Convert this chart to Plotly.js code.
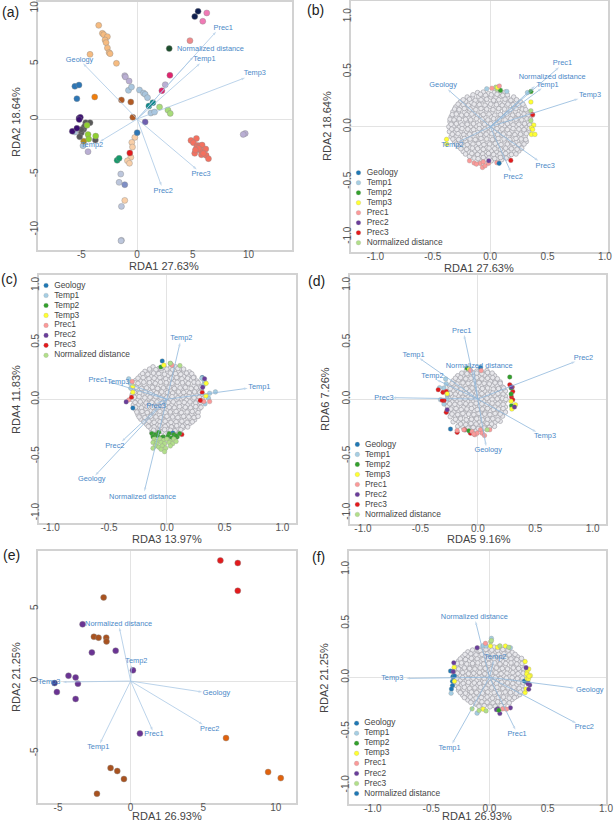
<!DOCTYPE html>
<html><head><meta charset="utf-8">
<script src="https://cdn.plot.ly/plotly-3.0.1.min.js"></script>
<style>html,body{margin:0;padding:0;background:#fff}#c{width:614px;height:822px}</style></head>
<body><div id="c"></div>
<script>
// ---------- shared names ----------
const classNames = ['Geology','Temp1','Temp2','Temp3','Prec1','Prec2','Prec3','Normalized distance'];
const classNamesF = ['Geology','Temp1','Temp2','Temp3','Prec1','Prec2','Prec3','Normalized distance'];

// ---------- panel (a): site scores, cluster id per site ----------
const aX = [-3.45,-3.12,-3.0,-2.67,-2.88,-2.79,-2.67,-2.52,-2.43,-1.86,-4.23,
 -0.21,-0.48,-0.42,-0.57,-0.87,-0.69,-1.11,
 -1.47,-1.62,-1.41,-1.41,-1.45,-1.11,
 -1.11,-1.05,-0.72,2.52,9.7,9.52,-4.41,
 -0.78,-0.51,0.21,0.57,0.72,0.93,1.23,1.56,-5.59,-4.86,
 1.05,1.41,
 -5.59,-5.22,-5.41,0,
 -3.81,
 -1.41,-0.57,-0.39,
 2.01,2.76,2.97,
 -4.8,
 -4.62,-4.23,-4.8,-5.01,-5.16,-3.75,-4.74,-5.0,
 -5.22,-5.1,-5.82,-5.41,-5.2,
 -4.5,-4.41,-3.72,-4.35,
 5.47,5.17, 6.25,5.89, 4.74, 2.88, 2.94,2.22,
 4.83,5.32,5.05,5.41,5.65,5.83,5.35,5.65,6.16,5.17,5.77,6.19,6.4,5.95,5.5,5.23,
 -0.66, -1.8,-1.62, 0.72];
const aY = [8.46,7.74,7.62,7.44,7.14,6.9,6.42,6.0,5.9,5.03,5.84,
 -1.66,-2.11,-2.53,-3.46,-3.77,-4.0,-7.35,
 -4.97,-5.72,-7.89,-10.96,-11.0,-5.93,
 3.92,3.8,3.43,3.1,-1.3,-1.39,-2.95,
 2.59,2.89,2.62,2.35,2.23,1.93,0.54,0.63,-1.17,-2.41,
 1.17,1.48,
 2.95,3.07,1.84,-1.23,
 1.99,
 1.72,1.54,0.15,
 1.08,0.81,0.51,
 -2.0,
 -0.33,-0.33,-0.93,-1.23,-1.6,-1.9,-0.7,-0.95,
 0.06,0.15,-1.11,-0.84,-0.05,
 -0.57,-1.39,-1.54,-1.81,
 9.73,9.25, 9.58,8.83, 7.08, 6.36, 3.95,2.56,
 -1.93,-1.75,-2.14,-2.38,-2.41,-2.35,-2.56,-2.8,-2.71,-3.1,-3.22,-3.28,-3.58,-3.1,-2.65,-2.8,
 -3.07, -3.73,-3.55, -0.27];
const aCluster = [0,0,0,0,0,0,0,0,0,0,0,
 1,1,1,1,1,1,1,
 2,2,2,2,2,3,
 4,4,4,4,4,4,4,
 5,5,5,5,5,5,5,5,5,5,
 6,6,
 7,7,7,7,
 8,
 9,9,9,
 10,10,10,
 11,
 12,12,12,12,12,12,12,12,
 13,13,13,13,13,
 14,14,14,14,
 15,15, 16,16, 17, 18, 19,19,
 20,20,20,20,20,20,20,20,20,20,20,20,20,20,20,20,
 21, 22,22, 23];
const aClusterColors = ['#f6bb80','#f9cfa8','#bcc6dc','#7f8fc5','#b9aed3','#a9c6de','#0e8a8a','#2d76b5','#f07d0a','#b25a23','#a8dc7a','#b08a20','#595959','#3b0f70','#90d030','#0f1f4f','#f07ab5','#f0898a','#1b4d2b','#e0246e','#f4705f','#e31a1c','#159a6a','#6f60b0'];

// ---------- panel (e): site scores ----------
const eX = [6.18,7.38,7.38, -1.86,-2.53,-2.21,-1.68,-1.66,-1.38,-0.92,-0.46,-2.32,
 -3.31,-1.03,-2.67,0.16,-4.28,-3.79,-3.63,-5.24,-5.08,-3.79,0.64, 6.57,9.47,10.34];
const eY = [8.34,8.16,6.24, 5.78,3.06,3.0,3.0,2.74,-6.01,-6.22,-6.77,-7.79,
 3.92,2.1,1.98,0.74,0.37,0.25,-0.18,-0.14,-0.76,-1.24,-3.62, -3.94,-6.29,-6.71];
const eCluster = [0,0,0, 1,1,1,1,1,1,1,1,1, 2,2,2,2,2,2,2,3,2,2,2, 4,4,4];
const eClusterColors = ['#e31a1c','#a8521f','#6a3393','#3d3d8e','#e0620d'];

// ---------- arrow names, tips, label positions ----------
const arrowNames = ['Geology','Temp1','Temp2','Temp3','Prec1','Prec2','Prec3','Normalized distance'];
const aTipX = [-4.86,5.65,-3.36,9.7,7.09,2.19,5.35,5.05];
const aTipY = [5.03,5.03,-2.05,3.73,7.89,-6.05,-4.55,5.63];
const aLabX = [-5.17,6.04,-4.05,10.57,7.72,2.34,5.74,6.58];
const aLabY = [5.33,5.45,-2.32,4.1,8.22,-6.48,-5.0,6.27];

const bTipX = [-.37,.45,-.28,.77,.60,.18,.42,.39];
const bTipY = [.34,.35,-.14,.255,.54,-.41,-.31,.37];
const bLabX = [-.41,.50,-.33,.87,.63,.20,.48,.54];
const bLabY = [.38,.378,-.165,.29,.58,-.46,-.355,.447];

const cTipX = [-.62,.70,.115,-.33,-.505,-.39,-.09,-.195];
const cTipY = [-.67,.097,.5,.14,.155,-.37,-.035,-.81];
const cLabX = [-.65,.80,.125,-.42,-.595,-.45,-.095,-.21];
const cLabY = [-.70,.108,.535,.15,.167,-.41,-.058,-.856];

const dTipX = [.072,-.51,-.36,.51,-.12,.85,-.745,-.035];
const dTipY = [-.416,.36,.17,-.29,.566,.33,.012,.26];
const dLabX = [.09,-.56,-.395,.585,-.14,.92,-.817,.012];
const dLabY = [-.45,.385,.2,-.323,.6,.36,.009,.285];

const eArrowNames = ['Geology','Temp1','Temp2','Temp3','Prec1','Prec2','Normalized distance'];
const eTipX = [4.94,-2.11,.07,-4.69,1.52,4.97,-.78];
const eTipY = [-.76,-4.31,1.1,-.07,-3.43,-3.0,3.71];
const eLabX = [5.91,-2.23,.39,-5.61,1.61,5.45,-.83];
const eLabY = [-.83,-4.59,1.36,-.07,-3.69,-3.3,3.96];

const fArrowNames = ['Geology','Temp1','Temp2','Temp3','Prec1','Prec2','Normalized distance'];
const fTipX = [.73,-.32,.037,-.714,.223,.745,-.12];
const fTipY = [-.1,-.615,.16,-.01,-.486,-.425,.52];
const fLabX = [.86,-.343,.05,-.834,.237,.814,-.13];
const fLabY = [-.117,-.652,.19,-.012,-.523,-.465,.56];

// ---------- species coloured by strongest axis (index into classNames) ----------
const bSpX = [.06,.05,.355,.355,.355, -.03,.145,.325, .09,.355, .065,.355,.38,.36,.37,.36,.39,-.38,-.38,
 .015,.08,.37,-.18,-.14,-.087,-.06,-.067,-.044,-.015,.058,-.12, -.012, .18,.37, .078];
const bSpY = [.34,.36,.32,.145,.055, .345,.32,.31, .33,.32, .357,.225,.015,-.01,-.025,-.07,-.07,-.115,-.158,
 .35,.37,.105,-.31,-.33,-.333,-.32,-.37,-.355,-.333,-.327,-.34, -.31, -.306,.11, -.333];
const bSpClass = [7,7,7,7,7, 1,1,1, 2,2, 3,3,3,3,3,3,3,3,3, 4,4,4,4,4,4,4,4,4,4,4,4, 5, 6,6, 0];

const cSpX = [-.04,.306,-.294,.052, -.33,-.317,-.312,.42,.37,.36,.33,.303,.323,.317,
 -.052,.03, -.026,-.294,-.294,.34,.338, .043,-.3,-.33,.303,.37,.32, -.352,.326,.31, -.306,.13,.306,.289, .03,.113,
 -.13,-.10,-.07,-.03,.02,.06,.09,.11,-.12,-.08,-.04,.01,.04,.08,
 -.11,-.09,-.06,-.03,0,.03,.06,-.12,-.09,-.05,-.02,.02,.05,.08,-.10,-.07,-.04,-.01,.03,-.12,-.05,-.02];
const cSpY = [.337,.19,-.076,-.296, .18,.14,.097,.065,.053,.01,-.04,.185,.16,.126,
 .284,.314, .3,.114,.062,.14,.03, .3,.155,-.006,-.012,-.02,-.02, -.023,.18,.105, .018,-.31,.059,-.01, .317,.296,
 -.30,-.31,-.29,-.33,-.30,-.31,-.33,-.30,-.33,-.32,-.335,-.325,-.34,-.32,
 -.35,-.37,-.35,-.36,-.35,-.37,-.35,-.38,-.39,-.38,-.39,-.38,-.39,-.37,-.41,-.42,-.41,-.43,-.41,-.43,-.44,-.46];
const cSpClass = [0,0,0,0, 1,1,1,1,1,1,1,1,1,1, 2,2, 3,3,3,3,3, 4,4,4,4,4,4, 5,5,5, 6,6,6,6, 7,7,
 2,2,2,2,2,2,2,2,2,2,2,2,2,2,
 7,7,7,7,7,7,7,7,7,7,7,7,7,7,7,7,7,7,7,7,7,7];

const dSpX = [-.28,-.275,-.295,-.333,-.267,-.325,-.295,-.267,
 -.345,-.304,-.275,-.295,-.31,-.275,.278,.3,.304,.293,.304,-.18,-.116,-.064,
 .278,.29,.29,.293,-.078,-.093,
 -.267,.29,.328,.296,-.075,
 .319,.293,-.267, -.238,.023,
 -.064,.029,-.18,-.122,-.05,-.026,-.006,.023,.038,.058,.104,-.035, .081];
const dSpY = [.176,.135,.097,.1,.038,-.006,-.044,0,
 .082,.059,.067,-.012,-.01,-.117,.126,.105,.067,.018,-.006,-.293,-.27,-.3,
 .194,.097,.044,-.059,-.279,.27,
 .047,-.02,-.05,-.088,.264,
 -.07,.105,-.094, -.264,.276,
 .252,.25,-.276,-.27,-.285,-.314,-.3,-.27,-.3,-.32,-.27,-.308, -.27];
const dSpClass = [1,1,1,1,1,1,1,1, 6,6,6,6,6,6,6,6,6,6,6,6,6,6, 2,2,2,2,2,2, 3,3,3,3,3, 5,5,5, 0,0, 4,4,4,4,4,4,4,4,4,4,4,4, 7];

const fSpX = [-.334,-.314,-.3,-.317,-.317,-.326,.3,.314,.334,
 -.329,-.106,.017,-.057,-.029,.18,
 -.303,-.3,.009,.089,.07,.137,.306,.337,.323,.351,.323,.335,.306,.314,-.054,.32,.34,
 -.306,-.311,-.106,.314,.346,.337,.071,.06,.089,.18,.33,
 -.034,.114,.146,
 .011,.166,-.149,-.089,-.029,.017,.09,
 .08];
const fSpY = [.058,.006,.012,-.037,-.077,-.108,-.034,-.04,-.055,
 -.148,-.332,.36,.292,.289,.274,
 .092,-.037,.289,.289,.277,.289,.145,.077,.049,.015,-.012,-.015,-.142,-.108,-.295,.03,.01,
 .135,.052,.274,.089,-.071,-.111,-.292,-.3,-.335,-.283,-.06,
 .314,-.292,-.295,
 .329,.277,-.292,-.308,-.311,.34,.29,
 -.305];
const fSpClass = [0,0,0,0,0,0,0,0,0, 1,1,1,1,1,1, 3,3,3,3,3,3,3,3,3,3,3,3,3,3,3,3,3, 5,5,5,5,5,5,5,5,5,5,5, 4,4,4, 6,6,6,6,6,6,6, 2];

// ---------- grey species clouds, read row by row ----------
const bCloudX = [-.11,-.06,-.015,.035,.085,.13,
 -.20,-.155,-.10,-.055,.005,.05,.095,.155,.205,
 -.26,-.215,-.165,-.12,-.07,-.025,.03,.08,.125,.175,.22,.265,
 -.30,-.25,-.205,-.15,-.105,-.05,-.005,.05,.10,.145,.205,.25,.295,
 -.325,-.275,-.225,-.18,-.135,-.08,-.03,.015,.07,.125,.17,.22,.27,.32,
 -.34,-.295,-.245,-.19,-.145,-.09,-.045,.01,.055,.105,.15,.205,.25,.30,.34,
 -.35,-.31,-.26,-.21,-.165,-.115,-.065,-.02,.03,.08,.13,.18,.23,.28,.33,
 -.36,-.32,-.27,-.225,-.17,-.12,-.075,-.02,.025,.08,.125,.17,.225,.27,.32,.35,
 -.355,-.305,-.255,-.205,-.16,-.11,-.06,-.01,.04,.09,.14,.19,.235,.29,.335,
 -.34,-.29,-.24,-.195,-.14,-.09,-.045,.01,.055,.105,.16,.205,.255,.305,
 -.31,-.265,-.215,-.17,-.12,-.07,-.02,.03,.075,.125,.18,.225,.275,.315,
 -.275,-.225,-.18,-.125,-.08,-.03,.02,.07,.12,.165,.215,.265,
 -.235,-.185,-.135,-.09,-.04,.01,.055,.11,.155,.21,.25,
 -.18,-.125,-.085,-.03,.02,.065,.12,.165,
 -.09,-.04,.01,.06,.10,
 -.15,-.085,-.04,.01,.06,.11,.15,
 -.235,-.18,-.13,-.08,-.03,.03,.075,.13,.18,.23,
 -.28,-.235,-.19,-.14,-.095,-.045,.005,.055,.105,.155,.2,.25,.285,
 -.31,-.27,-.225,-.175,-.125,-.08,-.03,.025,.075,.125,.175,.225,.28,.31,
 -.33,-.295,-.25,-.205,-.16,-.11,-.06,-.01,.04,.09,.145,.195,.245,.295,.33,
 -.35,-.315,-.27,-.215,-.17,-.12,-.07,-.02,.03,.08,.13,.18,.225,.275,.32,.35,
 -.34,-.295,-.245,-.2,-.145,-.095,-.05,.005,.055,.1,.15,.2,.25,.3,.345,
 -.335,-.29,-.245,-.195,-.145,-.095,-.045,.01,.06,.105,.15,.2,.25,.295,.34,
 -.33,-.28,-.23,-.18,-.135,-.085,-.035,.015,.065,.115,.165,.215,.265,.315,
 -.325,-.275,-.225,-.175,-.13,-.08,-.03,.02,.07,.12,.17,.225,.27,.31,
 -.295,-.25,-.2,-.15,-.1,-.055,-.005,.045,.095,.15,.2,.25,.295,
 -.255,-.205,-.155,-.11,-.06,-.01,.04,.09,.135,.185,.235,.275,
 -.215,-.16,-.11,-.065,-.015,.03,.085,.135,.185,.225,
 -.14,-.105,-.06,-.01,.04,.09,.14];
const bCloudY = [.31,.315,.30,.31,.305,.315,
 .27,.265,.275,.26,.27,.265,.275,.26,.27,
 .225,.23,.22,.225,.235,.22,.23,.22,.225,.23,.22,.225,
 .18,.185,.175,.18,.19,.175,.185,.18,.175,.19,.18,.175,.185,
 .135,.14,.13,.14,.125,.135,.14,.13,.14,.13,.135,.14,.13,.135,
 .09,.085,.095,.08,.09,.095,.085,.09,.08,.095,.085,.09,.085,.095,.09,
 .045,.05,.04,.05,.045,.035,.05,.04,.045,.05,.04,.045,.05,.04,.045,
 0,.005,-.005,.005,-.005,.005,0,-.01,.005,0,.01,-.005,.005,0,-.005,.005,
 -.045,-.05,-.04,-.05,-.035,-.05,-.04,-.05,-.045,-.035,-.05,-.04,-.05,-.045,-.04,
 -.09,-.085,-.095,-.08,-.09,-.095,-.085,-.09,-.095,-.08,-.09,-.085,-.095,-.09,
 -.135,-.14,-.13,-.14,-.125,-.135,-.14,-.13,-.14,-.13,-.135,-.14,-.13,-.135,
 -.18,-.175,-.185,-.18,-.175,-.19,-.18,-.175,-.185,-.18,-.175,-.185,
 -.225,-.23,-.22,-.225,-.235,-.22,-.23,-.22,-.225,-.23,-.22,
 -.27,-.265,-.275,-.26,-.27,-.265,-.275,-.26,
 -.305,-.30,-.31,-.295,-.30,
 .29,.295,.285,.29,.295,.285,.29,
 .245,.25,.24,.245,.25,.24,.245,.25,.24,.245,
 .205,.2,.195,.205,.2,.195,.205,.2,.195,.205,.2,.195,.205,
 .16,.155,.165,.16,.155,.165,.16,.155,.165,.16,.155,.165,.16,.155,
 .11,.115,.105,.11,.115,.105,.11,.115,.105,.11,.115,.105,.11,.115,.105,
 .068,.062,.072,.068,.062,.072,.068,.062,.072,.068,.062,.072,.068,.062,.072,.068,
 .022,.027,.017,.022,.027,.017,.022,.027,.017,.022,.027,.017,.022,.027,.017,
 -.022,-.027,-.017,-.022,-.027,-.017,-.022,-.027,-.017,-.022,-.027,-.017,-.022,-.027,-.017,
 -.068,-.063,-.073,-.068,-.063,-.073,-.068,-.063,-.073,-.068,-.063,-.073,-.068,-.063,
 -.112,-.117,-.107,-.112,-.117,-.107,-.112,-.117,-.107,-.112,-.117,-.107,-.112,-.117,
 -.158,-.153,-.163,-.158,-.153,-.163,-.158,-.153,-.163,-.158,-.153,-.163,-.158,
 -.2,-.205,-.195,-.2,-.205,-.195,-.2,-.205,-.195,-.2,-.205,-.195,
 -.248,-.243,-.253,-.248,-.243,-.253,-.248,-.243,-.253,-.248,
 -.285,-.29,-.28,-.285,-.29,-.28,-.285];

const cCloudX = [-.12,-.07,-.025,.03,.075,.115,
 -.19,-.145,-.095,-.05,.005,.05,.10,.145,.195,
 -.23,-.185,-.135,-.09,-.045,.01,.055,.095,.145,.19,.235,
 -.27,-.225,-.175,-.125,-.08,-.03,.02,.065,.11,.16,.21,.26,
 -.285,-.24,-.195,-.15,-.105,-.05,-.005,.045,.09,.14,.185,.235,.28,
 -.29,-.255,-.205,-.16,-.115,-.07,-.02,.03,.07,.125,.17,.22,.265,.30,
 -.30,-.26,-.215,-.165,-.12,-.07,-.03,.02,.07,.115,.165,.21,.26,.30,
 -.295,-.25,-.205,-.155,-.11,-.065,-.015,.03,.08,.125,.17,.225,.27,.305,
 -.29,-.245,-.195,-.15,-.10,-.055,-.01,.04,.085,.135,.18,.23,.275,
 -.27,-.225,-.18,-.135,-.085,-.04,.01,.055,.105,.15,.195,.245,.28,
 -.25,-.205,-.16,-.115,-.065,-.02,.03,.075,.12,.17,.215,.26,
 -.225,-.18,-.135,-.085,-.04,.01,.055,.105,.15,.20,.24,
 -.175,-.125,-.08,-.03,.015,.065,.11,.16,.20,
 -.14,-.09,-.045,.005,.05,.095,.14,
 -.13,-.09,-.04,.01,.06,.105,
 -.15,-.095,-.05,0,.05,.095,.145,
 -.21,-.165,-.115,-.07,-.02,.03,.075,.12,.17,.215,
 -.25,-.205,-.155,-.11,-.06,-.01,.04,.085,.13,.18,.23,
 -.275,-.25,-.2,-.15,-.1,-.055,-.005,.045,.09,.135,.185,.235,.27,
 -.29,-.265,-.22,-.175,-.125,-.08,-.03,.02,.065,.115,.16,.21,.255,.295,
 -.28,-.235,-.185,-.14,-.09,-.045,.005,.05,.1,.145,.195,.24,.285,
 -.28,-.24,-.19,-.145,-.095,-.05,0,.045,.095,.14,.19,.235,.28,
 -.275,-.23,-.18,-.13,-.085,-.04,.01,.055,.105,.15,.2,.25,.29,
 -.27,-.22,-.17,-.125,-.075,-.03,.02,.065,.11,.16,.205,.25,.295,
 -.26,-.215,-.17,-.11,-.06,-.015,.03,.08,.125,.175,.22,.27,
 -.24,-.19,-.14,-.095,-.05,0,.05,.095,.145,.19,.235,.27,
 -.2,-.155,-.11,-.06,-.015,.035,.08,.13,.175,.22,
 -.16,-.11,-.06,-.015,.04,.085,.135,.18,
 -.115,-.07,-.02,.03,.07,.12];
const cCloudY = [.285,.27,.28,.275,.285,.265,
 .245,.25,.24,.25,.235,.245,.24,.25,.24,
 .205,.21,.20,.21,.195,.205,.20,.21,.20,.205,.195,
 .165,.16,.17,.155,.165,.16,.17,.155,.165,.16,.17,.16,
 .125,.12,.13,.115,.125,.12,.13,.12,.115,.125,.13,.12,.115,
 .08,.085,.075,.085,.07,.08,.085,.075,.08,.085,.07,.08,.085,.075,
 .04,.035,.045,.03,.04,.045,.03,.04,.035,.045,.03,.04,.035,.045,
 -.005,0,-.01,.005,-.005,-.01,.005,0,-.01,.005,-.005,0,-.01,.005,
 -.05,-.045,-.055,-.04,-.05,-.055,-.045,-.05,-.04,-.055,-.045,-.05,-.04,
 -.09,-.095,-.085,-.10,-.09,-.085,-.095,-.09,-.10,-.085,-.09,-.095,-.085,
 -.135,-.13,-.14,-.125,-.135,-.14,-.13,-.135,-.125,-.14,-.13,-.135,
 -.175,-.18,-.17,-.185,-.175,-.17,-.18,-.175,-.185,-.17,-.18,
 -.22,-.215,-.225,-.21,-.22,-.215,-.225,-.22,-.21,
 -.255,-.26,-.25,-.265,-.255,-.26,-.25,
 -.29,-.295,-.285,-.30,-.29,-.295,
 .265,.26,.27,.265,.26,.27,.265,
 .225,.22,.23,.225,.22,.23,.225,.22,.23,.225,
 .185,.19,.18,.185,.19,.18,.185,.19,.18,.185,.19,
 .145,.14,.15,.145,.14,.15,.145,.14,.15,.145,.14,.15,.145,
 .10,.105,.095,.10,.105,.095,.10,.105,.095,.10,.105,.095,.10,.105,
 .06,.055,.065,.06,.055,.065,.06,.055,.065,.06,.055,.065,.06,
 .018,.023,.013,.018,.023,.013,.018,.023,.013,.018,.023,.013,.018,
 -.028,-.023,-.033,-.028,-.023,-.033,-.028,-.023,-.033,-.028,-.023,-.033,-.028,
 -.07,-.075,-.065,-.07,-.075,-.065,-.07,-.075,-.065,-.07,-.075,-.065,-.07,
 -.112,-.107,-.117,-.112,-.107,-.117,-.112,-.107,-.117,-.112,-.107,-.117,
 -.155,-.16,-.15,-.155,-.16,-.15,-.155,-.16,-.15,-.155,-.16,-.15,
 -.198,-.193,-.203,-.198,-.193,-.203,-.198,-.193,-.203,-.198,
 -.238,-.243,-.233,-.238,-.243,-.233,-.238,-.243,
 -.272,-.277,-.267,-.272,-.277,-.267];

const dCloudX = [-.10,-.055,-.01,.04,.08,
 -.175,-.13,-.085,-.035,.01,.06,.105,.145,
 -.215,-.17,-.125,-.08,-.03,.015,.065,.11,.155,.195,
 -.245,-.20,-.155,-.105,-.06,-.015,.035,.08,.125,.17,.215,
 -.255,-.215,-.17,-.125,-.075,-.03,.015,.06,.11,.155,.20,.24,
 -.26,-.22,-.17,-.13,-.085,-.035,.01,.055,.105,.15,.195,.24,
 -.27,-.225,-.18,-.13,-.09,-.04,.005,.05,.10,.145,.19,.235,
 -.265,-.22,-.175,-.125,-.08,-.035,.015,.06,.105,.15,.20,.24,
 -.255,-.21,-.165,-.12,-.07,-.03,.02,.065,.11,.16,.205,.24,
 -.24,-.195,-.15,-.105,-.055,-.01,.035,.08,.125,.175,.215,
 -.215,-.17,-.125,-.075,-.03,.015,.06,.105,.15,.195,
 -.175,-.13,-.085,-.04,.01,.055,.10,.145,
 -.11,-.06,-.015,.03,.08,
 -.14,-.095,-.05,-.01,.035,.085,.125,
 -.195,-.15,-.105,-.06,-.01,.035,.085,.13,.17,
 -.225,-.18,-.13,-.085,-.04,.01,.055,.1,.15,.195,
 -.24,-.19,-.145,-.1,-.05,-.005,.04,.085,.135,.18,.225,
 -.24,-.195,-.15,-.105,-.055,-.01,.035,.085,.13,.175,.22,
 -.25,-.2,-.155,-.11,-.06,-.015,.03,.08,.125,.17,.215,.245,
 -.245,-.2,-.155,-.105,-.06,-.015,.035,.08,.125,.175,.22,
 -.235,-.19,-.145,-.095,-.055,-.005,.04,.085,.135,.18,.22,
 -.225,-.175,-.13,-.08,-.035,.01,.06,.105,.15,.195,
 -.195,-.15,-.1,-.055,-.01,.04,.085,.13,.175,
 -.15,-.105,-.06,-.015,.035,.08,.12,
 -.085,-.04,.005,.055,.1];
const dCloudY = [.25,.235,.245,.23,.25,
 .205,.21,.195,.205,.20,.21,.195,.205,
 .16,.165,.155,.17,.16,.15,.165,.155,.16,.15,
 .115,.12,.11,.12,.105,.115,.125,.11,.12,.115,.105,
 .07,.075,.065,.08,.07,.06,.075,.07,.06,.075,.065,.07,
 .025,.02,.03,.015,.025,.03,.015,.025,.02,.03,.015,.025,
 -.02,-.025,-.015,-.03,-.02,-.015,-.03,-.02,-.025,-.015,-.03,-.02,
 -.065,-.07,-.06,-.075,-.065,-.07,-.06,-.075,-.065,-.07,-.06,-.07,
 -.11,-.115,-.105,-.12,-.11,-.105,-.115,-.12,-.105,-.115,-.11,-.115,
 -.155,-.15,-.16,-.145,-.155,-.16,-.15,-.155,-.145,-.16,-.15,
 -.20,-.195,-.205,-.19,-.20,-.205,-.195,-.19,-.205,-.195,
 -.24,-.245,-.235,-.25,-.24,-.235,-.245,-.24,
 -.27,-.265,-.28,-.27,-.265,
 .228,.223,.233,.228,.223,.233,.228,
 .183,.188,.178,.183,.188,.178,.183,.188,.178,
 .138,.133,.143,.138,.133,.143,.138,.133,.143,.138,
 .092,.097,.087,.092,.097,.087,.092,.097,.087,.092,.097,
 .048,.043,.053,.048,.043,.053,.048,.043,.053,.048,.043,
 .002,.007,-.003,.002,.007,-.003,.002,.007,-.003,.002,.007,-.003,
 -.042,-.047,-.037,-.042,-.047,-.037,-.042,-.047,-.037,-.042,-.047,
 -.088,-.083,-.093,-.088,-.083,-.093,-.088,-.083,-.093,-.088,-.083,
 -.132,-.137,-.127,-.132,-.137,-.127,-.132,-.137,-.127,-.132,
 -.178,-.173,-.183,-.178,-.173,-.183,-.178,-.173,-.183,
 -.22,-.225,-.215,-.22,-.225,-.215,-.22,
 -.255,-.25,-.26,-.255,-.25];

const fCloudX = [-.10,-.055,-.005,.04,.09,.135,
 -.185,-.135,-.09,-.04,.005,.055,.10,.15,.195,
 -.23,-.185,-.14,-.09,-.045,.005,.05,.10,.145,.195,.24,
 -.265,-.215,-.17,-.125,-.075,-.03,.02,.065,.115,.16,.21,.255,.29,
 -.285,-.24,-.19,-.145,-.10,-.05,-.005,.04,.09,.135,.185,.23,.28,
 -.295,-.25,-.205,-.155,-.11,-.06,-.015,.03,.08,.125,.175,.22,.265,.30,
 -.30,-.255,-.21,-.16,-.115,-.07,-.02,.025,.075,.12,.17,.215,.265,.305,
 -.295,-.25,-.20,-.155,-.11,-.06,-.015,.035,.08,.13,.175,.225,.27,.30,
 -.285,-.24,-.19,-.145,-.10,-.05,-.005,.04,.09,.135,.185,.23,.28,
 -.265,-.22,-.17,-.125,-.08,-.03,.015,.065,.11,.155,.205,.25,.285,
 -.23,-.19,-.14,-.095,-.05,0,.045,.095,.14,.185,.235,.26,
 -.185,-.14,-.09,-.045,.005,.05,.10,.145,.195,
 -.115,-.07,-.02,.03,.075,.125,
 -.145,-.08,-.03,.02,.07,.115,.16,
 -.21,-.16,-.115,-.065,-.02,.03,.08,.125,.17,.22,
 -.25,-.205,-.155,-.105,-.055,-.01,.04,.09,.14,.185,.235,.275,
 -.275,-.24,-.195,-.145,-.1,-.05,-.005,.045,.09,.14,.185,.235,.28,
 -.295,-.265,-.215,-.17,-.125,-.08,-.035,.015,.06,.11,.155,.205,.25,.295,
 -.275,-.23,-.18,-.135,-.085,-.04,.01,.055,.1,.15,.2,.245,.29,
 -.28,-.23,-.185,-.14,-.09,-.045,.005,.05,.095,.145,.195,.24,.285,
 -.275,-.225,-.18,-.13,-.085,-.04,.01,.06,.105,.155,.2,.25,.29,
 -.265,-.215,-.17,-.125,-.075,-.03,.02,.065,.115,.16,.21,.255,
 -.25,-.205,-.155,-.11,-.06,-.015,.04,.085,.135,.18,.23,.265,
 -.215,-.165,-.115,-.07,-.02,.025,.075,.12,.17,.215,
 -.16,-.115,-.065,-.02,.03,.07,.125,.17,
 -.09,-.045,.005,.05,.1];
const fCloudY = [.27,.275,.265,.28,.27,.265,
 .235,.23,.24,.225,.235,.23,.24,.225,.23,
 .19,.195,.185,.20,.19,.18,.195,.185,.19,.18,.19,
 .15,.145,.155,.14,.15,.155,.14,.15,.145,.155,.14,.15,.145,
 .105,.11,.10,.115,.105,.095,.11,.10,.115,.105,.095,.11,.10,
 .06,.065,.055,.07,.06,.05,.065,.06,.07,.055,.065,.06,.05,.06,
 .015,.02,.01,.025,.015,.005,.02,.01,.025,.015,.005,.02,.01,.015,
 -.03,-.025,-.035,-.02,-.03,-.04,-.025,-.035,-.02,-.03,-.04,-.025,-.035,-.03,
 -.075,-.07,-.08,-.065,-.075,-.085,-.07,-.08,-.065,-.075,-.085,-.07,-.08,
 -.12,-.115,-.125,-.11,-.12,-.13,-.115,-.125,-.11,-.12,-.13,-.115,-.12,
 -.165,-.16,-.17,-.155,-.165,-.175,-.16,-.17,-.155,-.165,-.175,-.16,
 -.21,-.205,-.215,-.20,-.21,-.22,-.205,-.215,-.205,
 -.25,-.255,-.245,-.26,-.25,-.255,
 .252,.247,.257,.252,.247,.257,.252,
 .212,.217,.207,.212,.217,.207,.212,.217,.207,.212,
 .17,.165,.175,.17,.165,.175,.17,.165,.175,.17,.165,.175,
 .128,.133,.123,.128,.133,.123,.128,.133,.123,.128,.133,.123,.128,
 .082,.077,.087,.082,.077,.087,.082,.077,.087,.082,.077,.087,.082,.077,
 .038,.043,.033,.038,.043,.033,.038,.043,.033,.038,.043,.033,.038,
 -.008,-.003,-.013,-.008,-.003,-.013,-.008,-.003,-.013,-.008,-.003,-.013,-.008,
 -.052,-.057,-.047,-.052,-.057,-.047,-.052,-.057,-.047,-.052,-.057,-.047,-.052,
 -.098,-.093,-.103,-.098,-.093,-.103,-.098,-.093,-.103,-.098,-.093,-.103,
 -.142,-.147,-.137,-.142,-.147,-.137,-.142,-.147,-.137,-.142,-.147,-.137,
 -.188,-.183,-.193,-.188,-.183,-.193,-.188,-.183,-.193,-.188,
 -.232,-.237,-.227,-.232,-.237,-.227,-.232,-.237,
 -.268,-.263,-.273,-.268,-.263];

// ---------- styling ----------
const FONT = '"Liberation Sans", Arial, sans-serif';
const TICK = '#555555', TITLE = '#444444', LEG = '#444444';
const ARROW = '#a9c8e4', LABEL = '#4a88c7';
const classColors = ['#1f78b4','#a6cee3','#33a02c','#ffff33','#fb9a99','#6a3d9a','#e31a1c','#b2df8a'];
const classColorsF = ['#1f78b4','#a6cee3','#33a02c','#ffff33','#fb9a99','#6a3d9a','#b2df8a','#1f78b4'];
const W = 614, H = 822;

const panels = [
 {id:'',  tag:'(a)', tx:10, ty:12, f:[38,292,2,250], xr:[-8.9,13.9], yr:[-11.83,10.57], xt:[-5,0,5,10], xl:['-5','0','5','10'], yt:[-10,-5,0,5,10], yl:['-10','-5','0','5','10'],
  xtitle:'RDA1 27.63%', xtp:[164,265.5], ytitle:'RDA2 18.64%', ytp:[16,122], sites:[aX,aY,aCluster,aClusterColors], msize:6,
  arrows:[arrowNames,aTipX,aTipY,aLabX,aLabY]},
 {id:'2', tag:'(b)', tx:315, ty:10, f:[351,608,1,252], xr:[-1.213,1.027], yr:[-1.139,1.143], xt:[-1,-.5,0,.5,1], yt:[-1,-.5,0,.5,1],
  xtitle:'RDA1 27.63%', xtp:[479,267.5], ytitle:'RDA2 18.64%', ytp:[327,126], cloud:[bCloudX,bCloudY], sp:[bSpX,bSpY,bSpClass,classColors],
  arrows:[arrowNames,bTipX,bTipY,bLabX,bLabY], leg:[classNames,classColors,-1.148,-1.076,-.418,-.0909]},
 {id:'3', tag:'(c)', tx:9, ty:279, f:[39,296,275,523], xr:[-1.106,1.117], yr:[-1.087,1.092], xt:[-1,-.5,0,.5,1], yt:[-1,-.5,0,.5,1],
  xtitle:'RDA3 13.97%', xtp:[167,538.5], ytitle:'RDA4 11.83%', ytp:[16,400], cloud:[cCloudX,cCloudY], sp:[cSpX,cSpY,cSpClass,classColors],
  arrows:[arrowNames,cTipX,cTipY,cLabX,cLabY], leg:[classNames,classColors,-1.045,-.975,1.0,-.0877]},
 {id:'4', tag:'(d)', tx:316, ty:281, f:[350,606,275,524], xr:[-1.113,1.116], yr:[-1.099,1.091], xt:[-1,-.5,0,.5,1], yt:[-1,-.5,0,.5,1],
  xtitle:'RDA5 9.16%', xtp:[478.5,539], ytitle:'RDA6 7.26%', ytp:[325,399], cloud:[dCloudX,dCloudY], sp:[dSpX,dSpY,dSpClass,classColors],
  arrows:[arrowNames,dTipX,dTipY,dLabX,dLabY], leg:[classNames,classColors,-1.049,-.983,-.399,-.088]},
 {id:'5', tag:'(e)', tx:11, ty:555, f:[38,296,551,803], xr:[-6.38,11.39], yr:[-8.43,8.99], xt:[-5,0,5,10], xl:['-5','0','5','10'], yt:[-5,0,5], yl:['-5','0','5'],
  xtitle:'RDA1 26.93%', xtp:[167,815.5], ytitle:'RDA2 21.25%', ytp:[16,677], sites:[eX,eY,eCluster,eClusterColors], msize:6,
  arrows:[eArrowNames,eTipX,eTipY,eLabX,eLabY]},
 {id:'6', tag:'(f)', tx:318, ty:557, f:[349,606,551,804], xr:[-1.205,1.0], yr:[-1.173,1.169], xt:[-1,-.5,0,.5,1], yt:[-1,-.5,0,.5,1],
  xtitle:'RDA1 26.93%', xtp:[477,815.5], ytitle:'RDA2 21.25%', ytp:[324,678], cloud:[fCloudX,fCloudY], sp:[fSpX,fSpY,fSpClass,classColorsF],
  arrows:[fArrowNames,fTipX,fTipY,fLabX,fLabY], leg:[classNamesF,classColorsF,-1.14,-1.074,-.425,-.093]}
];

const traces = [];
const layout = {width:W, height:H, margin:{l:0,r:0,t:0,b:0,pad:0}, paper_bgcolor:'#fff', plot_bgcolor:'#fff',
  showlegend:false, font:{family:FONT}, annotations:[]};
const fmt = v => v.toFixed(1);

panels.forEach(p => {
  const xa = 'x'+p.id, ya = 'y'+p.id;
  const common = {
    showgrid:false, zeroline:true, zerolinecolor:'#e3e3e3', zerolinewidth:1.3,
    showline:true, mirror:true, linecolor:'#d2d2d2', linewidth:1.6, ticks:'', ticklen:0,
    tickfont:{size:10,color:TICK,family:FONT}, tickmode:'array', automargin:false
  };
  layout['xaxis'+p.id] = Object.assign({}, common, {
    anchor:ya, domain:[p.f[0]/W,p.f[1]/W], range:p.xr, tickvals:p.xt, ticktext:p.xl||p.xt.map(fmt), ticklabelstandoff:-6
  });
  layout['yaxis'+p.id] = Object.assign({}, common, {
    anchor:xa, domain:[1-p.f[3]/H,1-p.f[2]/H], range:p.yr, tickvals:p.yt, ticktext:p.yl||p.yt.map(fmt), tickangle:-90, ticklabelstandoff:-6
  });
  const titleFont = {size:11,color:TITLE,family:FONT};
  layout.annotations.push({xref:'paper',yref:'paper',x:p.tx/W,y:1-p.ty/H,text:p.tag,showarrow:false,xanchor:'center',yanchor:'middle',
    font:{size:14,color:'#222',family:FONT}});
  layout.annotations.push({xref:'paper',yref:'paper',x:p.xtp[0]/W,y:1-p.xtp[1]/H,text:p.xtitle,showarrow:false,xanchor:'center',yanchor:'middle',borderpad:0,font:titleFont});
  layout.annotations.push({xref:'paper',yref:'paper',x:p.ytp[0]/W,y:1-p.ytp[1]/H,text:p.ytitle,showarrow:false,xanchor:'center',yanchor:'middle',borderpad:0,textangle:-90,font:titleFont});

  if (p.cloud) traces.push({type:'scatter',mode:'markers',xaxis:xa,yaxis:ya,x:p.cloud[0],y:p.cloud[1],hoverinfo:'skip',
    marker:{size:4.6,color:'#e7e7eb',line:{color:'#a2a2a9',width:.7}}});
  if (p.sp) traces.push({type:'scatter',mode:'markers',xaxis:xa,yaxis:ya,x:p.sp[0],y:p.sp[1],
    marker:{size:4.6,color:p.sp[2].map(i=>p.sp[3][i]),line:{color:'#8a8a8a',width:.3}}});
  if (p.sites) traces.push({type:'scatter',mode:'markers',xaxis:xa,yaxis:ya,x:p.sites[0],y:p.sites[1],
    marker:{size:p.msize,color:p.sites[2].map(i=>p.sites[3][i]),line:{color:'#8a8a8a',width:.4}}});

  const [names,tx,ty,lx,ly] = p.arrows;
  names.forEach((n,i)=>{
    traces.push({type:'scatter',mode:'lines+markers',xaxis:xa,yaxis:ya,name:n,x:[0,tx[i]],y:[0,ty[i]],hoverinfo:'name',
      line:{color:p.cloud?'#8fb8dc':ARROW,width:.8},
      marker:{symbol:'arrow',angleref:'previous',size:[0,4],color:ARROW,line:{width:0}}});
  });
  traces.push({type:'scatter',mode:'text',xaxis:xa,yaxis:ya,x:lx,y:ly,text:names,textposition:'middle center',hoverinfo:'skip',
    textfont:{size:7.4,color:LABEL,family:FONT}});

  if (p.leg) {
    const [ln,lc,kx,tx0,y0,dy] = p.leg;
    const ys = ln.map((_,i)=>y0+i*dy);
    traces.push({type:'scatter',mode:'markers',xaxis:xa,yaxis:ya,x:ln.map(()=>kx),y:ys,hoverinfo:'skip',
      marker:{size:4.6,color:lc,line:{color:'#8a8a8a',width:.2}}});
    traces.push({type:'scatter',mode:'text',xaxis:xa,yaxis:ya,x:ln.map(()=>tx0),y:ys,text:ln,textposition:'middle right',hoverinfo:'skip',
      textfont:{size:8.4,color:LEG,family:FONT}});
  }
});

Plotly.newPlot('c', traces, layout, {displayModeBar:false, responsive:false});
</script></body></html>
